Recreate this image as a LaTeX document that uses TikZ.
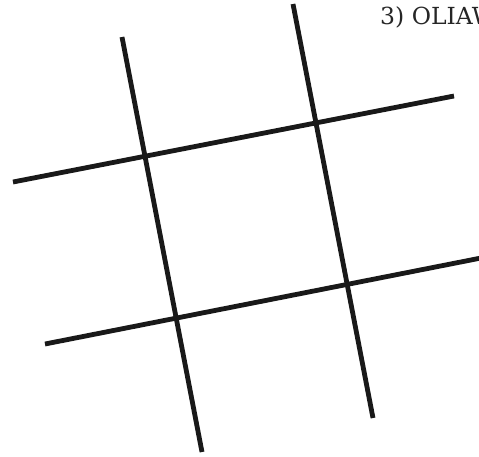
\documentclass[tikz,border=0pt]{standalone}
\usepackage{fontspec}
\setmainfont{DejaVu Serif}
\begin{document}
\begin{tikzpicture}[x=1pt,y=-1pt,
  gridline/.style={line width=4.8pt,color=black!90!white},
  label/.style={inner sep=0pt,anchor=base west,font=\fontsize{23.5}{25}\selectfont,text=black!85!white}]
\useasboundingbox (0,0) rectangle (479,456);
\begin{scope}
\clip (0,0) rectangle (479,456);
\draw[gridline] (122,37) -- (202,452);
\draw[gridline] (293,4) -- (373,418);
\draw[gridline] (13,182) -- (454,96);
\draw[gridline] (45,344) -- (481,258);
\node[label] (title) at (380,24) {3) OLIAW};
\end{scope}
\end{tikzpicture}
\end{document}
